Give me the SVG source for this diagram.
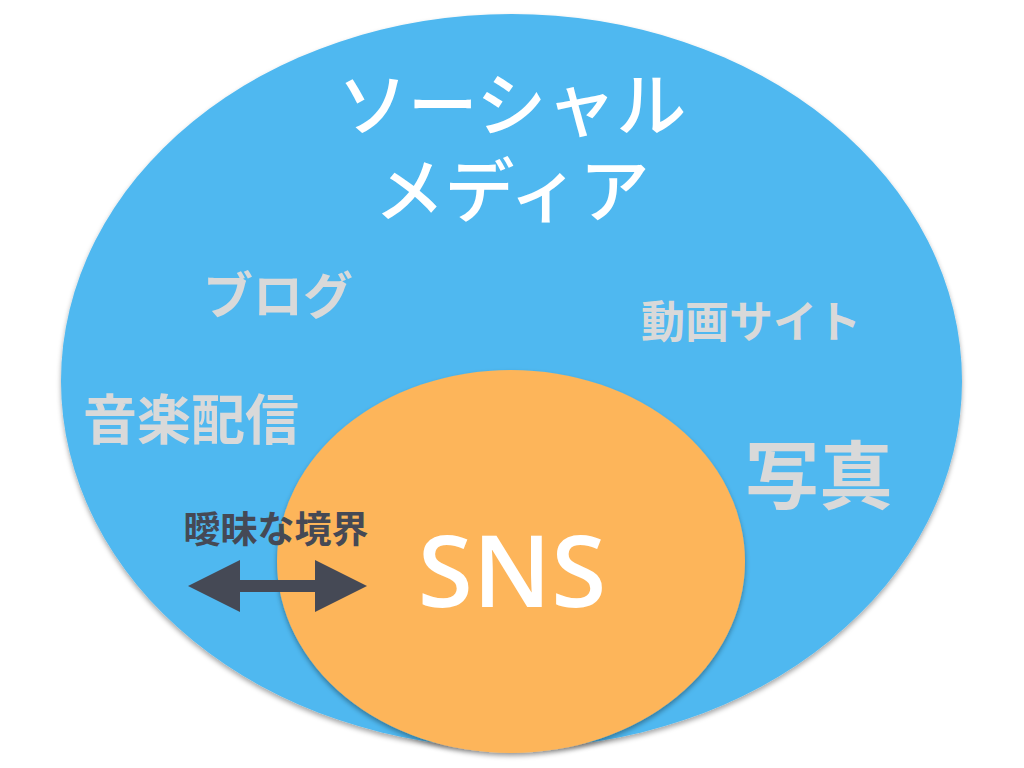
<svg xmlns="http://www.w3.org/2000/svg" width="1024" height="768" viewBox="0 0 1024 768">
<defs>
<filter id="sh" x="-10%" y="-10%" width="120%" height="120%">
<feDropShadow dx="0" dy="3" stdDeviation="2.5" flood-color="#000" flood-opacity="0.35"/>
</filter>
<style>
.jp{font-family:"Noto Sans CJK JP","Noto Sans",sans-serif;text-anchor:middle}
.t{font-family:"Liberation Sans","Noto Sans CJK JP",sans-serif;text-anchor:middle}
.w{fill:#ffffff;font-weight:500}
.g{fill:#d9d9d9;font-weight:700}
.d{fill:#454955;font-weight:700}
.sns{font-family:"Open Sans","Noto Sans",sans-serif;font-weight:600;fill:#ffffff;text-anchor:middle}
</style>
</defs>
<rect width="1024" height="768" fill="#ffffff"/>
<g id="social-media">
<ellipse cx="511.5" cy="381" rx="450.5" ry="367" fill="#4fb8f0" filter="url(#sh)"/>
<text class="t w" x="512" y="131" font-size="70">ソーシャル</text>
<text class="t w" x="512" y="217" font-size="70">メディア</text>
</g>
<g id="blog"><text class="jp g" x="278" y="314" font-size="50">ブログ</text></g>
<g id="video"><text class="jp g" x="751" y="338" font-size="44">動画サイト</text></g>
<g id="music"><text class="jp g" x="191" y="440" font-size="54">音楽配信</text></g>
<g id="photo"><text class="jp g" x="819" y="503" font-size="74">写真</text></g>
<g id="sns">
<ellipse cx="511" cy="561.5" rx="234" ry="191.5" fill="#fdb55a" filter="url(#sh)"/>
<text class="sns" x="512" y="607" font-size="100">SNS</text>
</g>
<g id="label"><text class="jp d" x="276" y="543" font-size="37">曖昧な境界</text></g>
<g id="connectors">
<polygon points="188,586 240,560 240,580 315,580 315,560 367,586 315,612 315,592 240,592 240,612" fill="#454955"/>
</g>
</svg>
